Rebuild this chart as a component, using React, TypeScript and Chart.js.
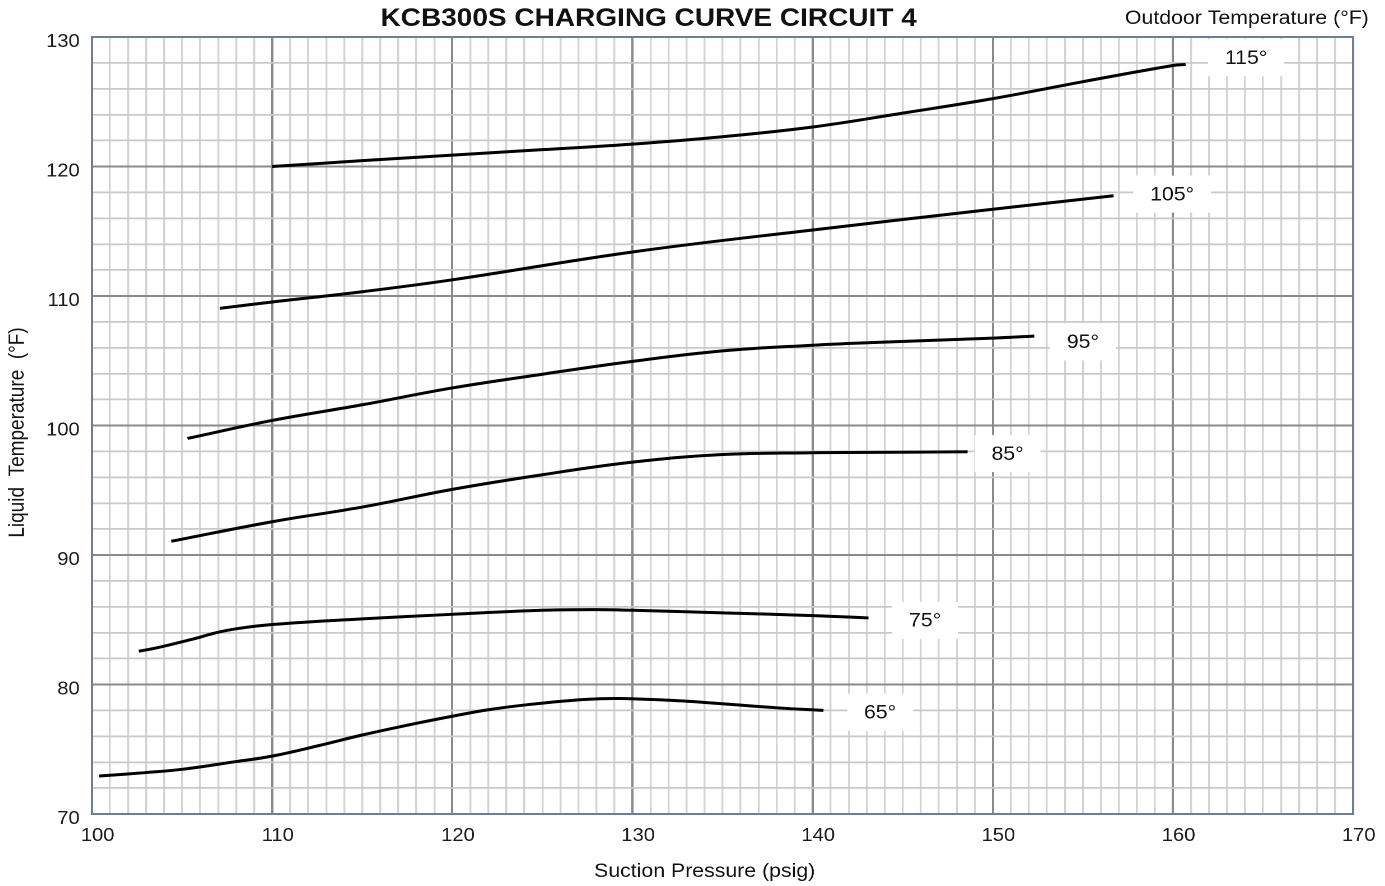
import React, { useEffect, useRef } from 'react';
import { Chart, registerables } from 'chart.js';

Chart.register(...registerables);

// ---------- data ----------
const chartTitle = 'KCB300S CHARGING CURVE CIRCUIT 4';
const legendTitle = 'Outdoor Temperature (°F)';
const xTitle = 'Suction Pressure (psig)';
const yTitle = 'Liquid  Temperature  (°F)';

const xTickLabels = [100, 110, 120, 130, 140, 150, 160, 170];
const yTickLabels = [70, 80, 90, 100, 110, 120, 130];

const outdoorTemps = ['65°', '75°', '85°', '95°', '105°', '115°'];

const p65 = [100.4, 103, 105, 108, 110, 112.5, 115, 118, 120, 122, 124.3, 127.3, 129.3, 133, 135, 138, 140.6];
const t65 = [72.93, 73.2, 73.45, 74.05, 74.47, 75.25, 76.1, 77.0, 77.55, 78.05, 78.46, 78.84, 78.92, 78.71, 78.51, 78.2, 78.0];

const p75 = [102.6, 103.6, 105.5, 106.9, 108, 110, 115, 120, 125, 128, 130, 135, 140, 143.1];
const t75 = [82.57, 82.83, 83.47, 84.0, 84.3, 84.63, 85.07, 85.42, 85.73, 85.78, 85.73, 85.53, 85.32, 85.14];

const p85 = [104.4, 110, 115, 120, 125, 130, 135, 140, 143.2, 148.6];
const t85 = [91.06, 92.57, 93.7, 95.07, 96.2, 97.17, 97.76, 97.9, 97.92, 97.97];

const p95 = [105.3, 110, 115, 120, 125, 130, 135, 140, 143.2, 150, 152.3];
const t95 = [99.0, 100.39, 101.6, 102.9, 103.96, 104.95, 105.76, 106.2, 106.4, 106.75, 106.9];

const p105 = [107.1, 110, 115, 120, 130, 140, 150, 156.7];
const t105 = [109.05, 109.54, 110.33, 111.25, 113.4, 115.1, 116.7, 117.74];

const p115 = [110, 115, 120, 125, 130, 135, 140, 145, 150, 155, 160, 160.7];
const t115 = [120.0, 120.45, 120.88, 121.3, 121.73, 122.3, 123.05, 124.12, 125.24, 126.55, 127.8, 127.88];

// label anchors (data units) for the outdoor temperature tags
const labelP = [143.74, 146.24, 150.82, 155.0, 159.95, 164.06];
const labelT = [77.86, 84.95, 97.83, 106.46, 117.87, 128.4];

const seriesP = [p65, p75, p85, p95, p105, p115];
const seriesT = [t65, t75, t85, t95, t105, t115];

// ---------- styling ----------
const S = 1.12; // horizontal stretch of the whole figure
const W = 1222;
const H = 878;
const FONT = '"Liberation Sans", Arial, Helvetica, sans-serif';

const textPlugin = {
  id: 'figureTexts',
  afterDatasetsDraw(chart: any) {
    const { ctx, scales } = chart;
    const x = scales.x;
    const y = scales.y;
    ctx.save();
    ctx.font = `19px ${FONT}`;
    ctx.textAlign = 'center';
    ctx.textBaseline = 'middle';
    outdoorTemps.forEach((t, i) => {
      const cx = x.getPixelForValue(labelP[i]);
      const cy = y.getPixelForValue(labelT[i]);
      const w = ctx.measureText(t).width + 30;
      const h = 37;
      ctx.fillStyle = '#ffffff';
      ctx.fillRect(cx - w / 2, cy - h / 2, w, h);
      ctx.fillStyle = '#111111';
      ctx.fillText(t, cx, cy + 1);
    });
    ctx.restore();
  },
  afterDraw(chart: any) {
    const { ctx, chartArea } = chart;
    const { left, right, top, bottom } = chartArea;
    ctx.save();
    // frame
    ctx.strokeStyle = '#6a7f9e';
    ctx.lineWidth = 2;
    ctx.strokeRect(left, top, right - left, bottom - top);

    ctx.fillStyle = '#111111';
    ctx.textBaseline = 'middle';

    // main title
    ctx.font = `bold 25px ${FONT}`;
    ctx.textAlign = 'center';
    ctx.fillText(chartTitle, (left + right) / 2 - 66, 11);

    // legend title
    ctx.font = `19px ${FONT}`;
    ctx.textAlign = 'right';
    ctx.fillText(legendTitle, right + 14, 11);

    // x title
    ctx.textAlign = 'center';
    ctx.fillText(xTitle, (left + right) / 2 - 16, 864);

    // y title
    ctx.translate(9, (top + bottom) / 2 + 7);
    ctx.rotate(-Math.PI / 2);
    ctx.fillText(yTitle, 0, 0);
    ctx.restore();
  },
};

export default function App() {
  const ref = useRef<HTMLCanvasElement>(null);

  useEffect(() => {
    if (!ref.current) return;
    const datasets = seriesP.map((ps, i) => ({
      label: outdoorTemps[i],
      data: ps.map((p, j) => ({ x: p, y: seriesT[i][j] })),
      borderColor: '#000000',
      backgroundColor: '#000000',
      borderWidth: 3,
      pointRadius: 0,
      tension: 0.4,
      fill: false,
    }));

    const chart = new Chart(ref.current, {
      type: 'line',
      data: { datasets },
      options: {
        animation: false,
        responsive: true,
        maintainAspectRatio: false,
        devicePixelRatio: 2,
        layout: { padding: { top: 29, right: 21, left: 0, bottom: 0 } },
        plugins: {
          legend: { display: false },
          tooltip: { enabled: false },
          title: { display: false },
        },
        scales: {
          x: {
            type: 'linear',
            min: 100,
            max: 170,
            afterFit: (scale: any) => {
              scale.height = 72;
              scale.paddingLeft = 0;
              scale.paddingRight = 0;
            },
            ticks: {
              stepSize: 1,
              autoSkip: false,
              maxRotation: 0,
              minRotation: 0,
              padding: 11,
              labelOffset: 5,
              color: '#1a1a1a',
              font: { family: FONT, size: 18 },
              callback: (v: any) => (xTickLabels.includes(Math.round(Number(v) * 1000) / 1000) ? String(v) : ''),
            },
            grid: {
              drawTicks: false,
              color: (c: any) => (c.tick && Math.round(c.tick.value) % 10 === 0 ? '#8a8a8a' : '#d3d3d3'),
              lineWidth: (c: any) => (c.tick && Math.round(c.tick.value) % 10 === 0 ? 2 : 1.7),
            },
            border: { display: false },
          },
          y: {
            type: 'linear',
            min: 70,
            max: 130,
            afterFit: (scale: any) => {
              scale.width = 75;
              scale.paddingTop = 0;
              scale.paddingBottom = 0;
            },
            ticks: {
              stepSize: 2,
              autoSkip: false,
              padding: 11,
              labelOffset: 5,
              color: '#1a1a1a',
              font: { family: FONT, size: 18 },
              callback: (v: any) => (yTickLabels.includes(Math.round(Number(v) * 1000) / 1000) ? String(v) : ''),
            },
            grid: {
              drawTicks: false,
              color: (c: any) => (c.tick && Math.round(c.tick.value) % 10 === 0 ? '#8a8a8a' : '#c9c9c9'),
              lineWidth: (c: any) => (c.tick && Math.round(c.tick.value) % 10 === 0 ? 2 : 1.8),
            },
            border: { display: false },
          },
        },
      },
      plugins: [textPlugin],
    });
    return () => chart.destroy();
  }, []);

  return (
    <div
      style={{
        position: 'absolute',
        left: 8,
        top: 8,
        width: W,
        height: H,
        transform: `scaleX(${S})`,
        transformOrigin: '0 0',
      }}
    >
      <canvas ref={ref} />
    </div>
  );
}
